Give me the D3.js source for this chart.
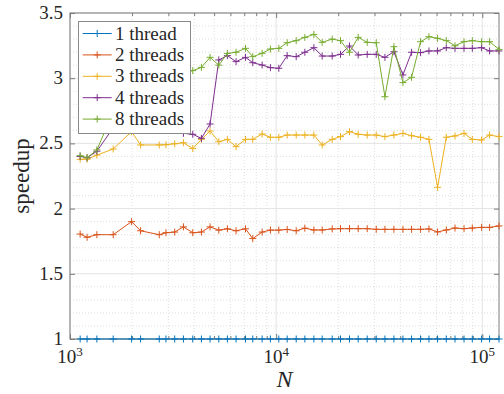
<!DOCTYPE html>
<html>
<head>
<meta charset="utf-8">
<script src="https://cdn.jsdelivr.net/npm/d3@7/dist/d3.min.js"></script>
<style>
  body { margin: 0; background: #fff; }
</style>
</head>
<body>
<svg id="chart" width="504" height="394" font-family="'Liberation Serif', 'DejaVu Serif', serif"></svg>
<script>
// problem sizes N (log x axis)
const N = [1120, 1210, 1350, 1620, 1990, 2200, 2710, 2920, 3220, 3550, 3940, 4340, 4780, 5270, 5800, 6390,
  7100, 7700, 8550, 9380, 10300, 11310, 12510, 13780, 15240, 16720, 18700, 20520, 22690, 25000, 27650,
  30580, 33700, 37260, 41210, 45380, 50180, 55110, 60670, 66880, 73710, 81530, 89440, 99220, 108500, 120500];

const threads1 = [1, 1, 1, 1, 1, 1, 1, 1, 1, 1, 1, 1, 1, 1, 1, 1, 1, 1, 1, 1, 1, 1, 1, 1, 1, 1, 1, 1, 1, 1, 1,
  1, 1, 1, 1, 1, 1, 1, 1, 1, 1, 1, 1, 1, 1, 1];
const threads2 = [1.805, 1.78, 1.80, 1.80, 1.90, 1.83, 1.80, 1.815, 1.82, 1.86, 1.815, 1.82, 1.86, 1.835, 1.845, 1.83,
  1.845, 1.77, 1.82, 1.835, 1.835, 1.84, 1.83, 1.85, 1.836, 1.836, 1.844, 1.846, 1.846, 1.846, 1.846,
  1.841, 1.841, 1.841, 1.841, 1.841, 1.841, 1.844, 1.821, 1.836, 1.851, 1.846, 1.851, 1.856, 1.856, 1.867];
const threads3 = [2.378, 2.378, 2.41, 2.457, 2.59, 2.488, 2.488, 2.49, 2.497, 2.505, 2.46, 2.531, 2.595, 2.513, 2.531, 2.475,
  2.531, 2.531, 2.572, 2.547, 2.547, 2.564, 2.564, 2.564, 2.564, 2.488, 2.531, 2.552, 2.59, 2.57, 2.564,
  2.564, 2.552, 2.564, 2.577, 2.559, 2.547, 2.531, 2.163, 2.547, 2.557, 2.577, 2.531, 2.526, 2.564, 2.552];
const threads4 = [2.40, 2.39, 2.44, 2.62, 2.70, 2.66, 2.62, 2.60, 2.62, 2.577, 2.57, 2.539, 2.649, 3.14, 3.173, 3.127,
  3.16, 3.119, 3.101, 3.081, 3.076, 3.173, 3.165, 3.199, 3.234, 3.17, 3.17, 3.183, 3.247, 3.178, 3.183,
  3.183, 3.16, 3.203, 3.025, 3.199, 3.196, 3.209, 3.209, 3.234, 3.229, 3.229, 3.229, 3.234, 3.209, 3.209];
const threads8 = [2.406, 2.39, 2.45, 2.74, 2.85, 2.90, 2.95, 2.98, 3.02, 3.04, 3.058, 3.083, 3.16, 3.10, 3.19, 3.199,
  3.229, 3.165, 3.191, 3.224, 3.229, 3.272, 3.288, 3.313, 3.336, 3.275, 3.30, 3.288, 3.199, 3.313, 3.275,
  3.272, 2.858, 3.242, 2.966, 3.007, 3.28, 3.318, 3.306, 3.288, 3.249, 3.28, 3.288, 3.28, 3.28, 3.221];

const seriesNames = ["1 thread", "2 threads", "3 threads", "4 threads", "8 threads"];
const seriesColors = ["#0072BD", "#D95319", "#EDB120", "#7E2F8E", "#77AC30"];
const yTicks = [1, 1.5, 2, 2.5, 3, 3.5];
const xTicks = [1e3, 1e4, 1e5];

const series = [threads1, threads2, threads3, threads4, threads8];

const mLeft = 70, mRight = 499, mTop = 13, mBottom = 339;
const svg = d3.select("#chart");

const x = d3.scaleLog().domain([1000, d3.max(N)]).range([mLeft, mRight]);
const y = d3.scaleLinear().domain([1, 3.5]).range([mBottom, mTop]);

// minor positions
let xMinor = [];
xTicks.forEach(d => { for (let k = 2; k <= 9; k++) { if (k * d <= d3.max(N)) xMinor.push(k * d); } });
let yMinor = d3.range(11, 35).map(v => v / 10).filter(v => Math.abs(v * 2 - Math.round(v * 2)) > 1e-6);

const grid = svg.append("g");
grid.selectAll(".gxm").data(xMinor).enter().append("line")
  .attr("x1", d => x(d)).attr("x2", d => x(d)).attr("y1", mTop).attr("y2", mBottom)
  .attr("stroke", "#d6d6d6").attr("stroke-width", 0.8).attr("stroke-dasharray", "1,2");
grid.selectAll(".gym").data(yMinor).enter().append("line")
  .attr("y1", d => y(d)).attr("y2", d => y(d)).attr("x1", mLeft).attr("x2", mRight)
  .attr("stroke", "#d6d6d6").attr("stroke-width", 0.8).attr("stroke-dasharray", "1,2");
grid.selectAll(".gx").data(xTicks).enter().append("line")
  .attr("x1", d => x(d)).attr("x2", d => x(d)).attr("y1", mTop).attr("y2", mBottom)
  .attr("stroke", "#e3e3e3").attr("stroke-width", 1);
grid.selectAll(".gy").data(yTicks).enter().append("line")
  .attr("y1", d => y(d)).attr("y2", d => y(d)).attr("x1", mLeft).attr("x2", mRight)
  .attr("stroke", "#e3e3e3").attr("stroke-width", 1);

// axes
const axisColor = "#7a7a7a";
function styleAxis(g) {
  g.select(".domain").remove();
  g.selectAll("line").attr("stroke", axisColor);
}
svg.append("g").attr("transform", `translate(0,${mBottom})`)
  .call(d3.axisBottom(x).tickValues(xTicks).tickSize(-5).tickFormat(""))
  .call(styleAxis);
svg.append("g").attr("transform", `translate(0,${mBottom})`)
  .call(d3.axisBottom(x).tickValues(xMinor).tickSize(-3).tickFormat(""))
  .call(styleAxis);
svg.append("g").attr("transform", `translate(0,${mTop})`)
  .call(d3.axisTop(x).tickValues(xTicks).tickSize(-5).tickFormat(""))
  .call(styleAxis);
svg.append("g").attr("transform", `translate(0,${mTop})`)
  .call(d3.axisTop(x).tickValues(xMinor).tickSize(-3).tickFormat(""))
  .call(styleAxis);
svg.append("g").attr("transform", `translate(${mLeft},0)`)
  .call(d3.axisLeft(y).tickValues(yTicks).tickSize(-5).tickFormat(""))
  .call(styleAxis);
svg.append("g").attr("transform", `translate(${mRight},0)`)
  .call(d3.axisRight(y).tickValues(yTicks).tickSize(-5).tickFormat(""))
  .call(styleAxis);
svg.append("rect").attr("x", mLeft).attr("y", mTop).attr("width", mRight - mLeft).attr("height", mBottom - mTop)
  .attr("fill", "none").attr("stroke", axisColor).attr("stroke-width", 1);

const textColor = "#262626";
// tick labels
svg.selectAll(".ylab").data(yTicks).enter().append("text")
  .attr("x", mLeft - 7).attr("y", d => y(d) + 6)
  .attr("text-anchor", "end").attr("font-size", 19).attr("fill", textColor)
  .text(d => d);
const xl = svg.selectAll(".xlab").data(xTicks).enter().append("text")
  .attr("x", d => x(d)).attr("y", 363).attr("text-anchor", "middle").attr("font-size", 19)
  .attr("fill", textColor);
xl.append("tspan").text("10");
xl.append("tspan").attr("font-size", 13).attr("dy", -7).text(d => Math.round(Math.log10(d)));

// axis labels
svg.append("text").attr("x", (mLeft + mRight) / 2).attr("y", 387).attr("fill", textColor)
  .attr("text-anchor", "middle").attr("font-size", 24).attr("font-style", "italic").text("N");
svg.append("text").attr("transform", `translate(29,${(mTop + mBottom) / 2}) rotate(-90)`)
  .attr("fill", textColor)
  .attr("text-anchor", "middle").attr("font-size", 23).text("speedup");

// series
function plus(sel, s) {
  sel.attr("d", `M${-s},0H${s}M0,${-s}V${s}`);
}
const line = d3.line().x(d => x(d[0])).y(d => y(d[1]));
series.forEach((vals, i) => {
  const pts = N.map((n, j) => [n, vals[j]]);
  const g = svg.append("g");
  g.append("path").datum(pts).attr("d", line)
    .attr("fill", "none").attr("stroke", seriesColors[i]).attr("stroke-width", 1);
  g.selectAll("path.m").data(pts).enter().append("path").attr("class", "m")
    .attr("transform", d => `translate(${x(d[0])},${y(d[1])})`)
    .call(plus, 3.5)
    .attr("fill", "none").attr("stroke", seriesColors[i]).attr("stroke-width", 1);
});

// legend
const lg = svg.append("g");
lg.append("rect").attr("x", 78.5).attr("y", 21.5).attr("width", 112).attr("height", 112)
  .attr("fill", "#fff").attr("stroke", "#8a8a8a").attr("stroke-width", 1);
seriesNames.forEach((name, i) => {
  const ry = 33.5 + i * 21.4;
  lg.append("line").attr("x1", 82.7).attr("x2", 111.7).attr("y1", ry).attr("y2", ry)
    .attr("stroke", seriesColors[i]).attr("stroke-width", 1);
  lg.append("path").attr("transform", `translate(97.2,${ry})`).call(plus, 3.5)
    .attr("fill", "none").attr("stroke", seriesColors[i]).attr("stroke-width", 1);
  lg.append("text").attr("x", 115).attr("y", ry + 6).attr("font-size", 19)
    .attr("fill", textColor).text(name);
});
</script>
</body>
</html>
